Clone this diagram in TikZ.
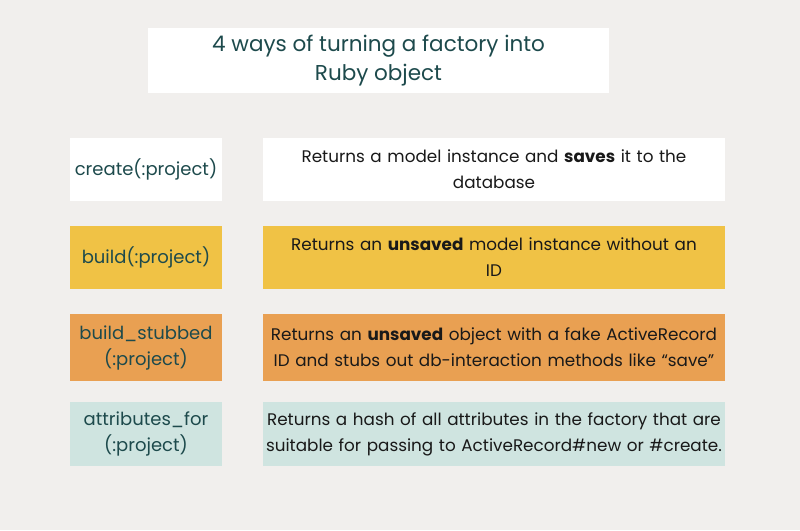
\documentclass[tikz,border=0pt]{standalone}
\usepackage{fontspec}
\setmainfont{Poppins}
\definecolor{bg}{HTML}{F1EFED}
\definecolor{yel}{HTML}{F0C245}
\definecolor{org}{HTML}{E9A052}
\definecolor{tea}{HTML}{CFE4E0}
\definecolor{tx}{HTML}{1D4A4C}
\begin{document}
\begin{tikzpicture}[x=1pt,y=-1pt,
  lbox/.style={minimum width=152pt,align=center,inner sep=0pt,text=tx,font=\fontsize{18}{26}\selectfont},
  rbox/.style={minimum width=462pt,text width=460pt,align=center,inner sep=0pt,text=black!90,font=\fontsize{16.8}{26}\selectfont}]
\fill[bg] (0,0) rectangle (800,530);
\node[fill=white,minimum width=461pt,minimum height=65pt,align=center,text=tx,font=\fontsize{21.5}{29}\selectfont] (t) at (378.5,60.5) {4 ways of turning a factory into\\Ruby object};
\node[lbox,fill=white,minimum height=63pt] (l1) at (146,169.5) {create(:project)};
\node[rbox,fill=white,minimum height=63pt] (r1) at (494,169.5) {Returns a model instance and \textbf{saves} it to the\\database};
\node[lbox,fill=yel,minimum height=63pt] (l2) at (146,257.5) {build(:project)};
\node[rbox,fill=yel,minimum height=63pt] (r2) at (494,257.5) {Returns an \textbf{unsaved} model instance without an\\ID};
\node[lbox,fill=org,minimum height=67pt] (l3) at (146,347.5) {build\_stubbed\\(:project)};
\node[rbox,fill=org,minimum height=67pt] (r3) at (494,347.5) {Returns an \textbf{unsaved} object with a fake ActiveRecord\\ID and stubs out db-interaction methods like “save”};
\node[lbox,fill=tea,minimum height=64pt] (l4) at (146,434) {attributes\_for\\(:project)};
\node[rbox,fill=tea,minimum height=64pt] (r4) at (494,434) {Returns a hash of all attributes in the factory that are\\suitable for passing to ActiveRecord\#new or \#create.};
\end{tikzpicture}
\end{document}
